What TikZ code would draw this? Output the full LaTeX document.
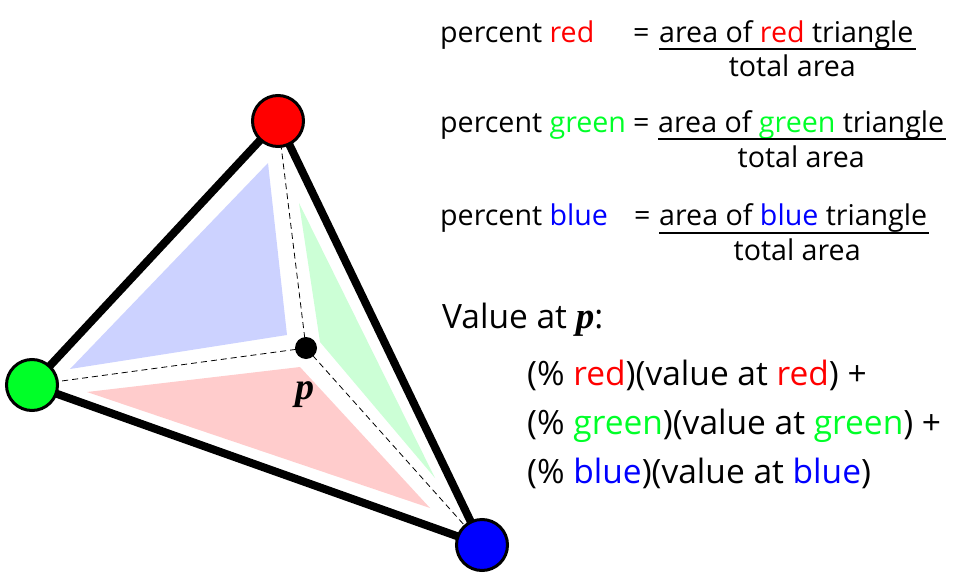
\documentclass[tikz,border=0pt]{standalone}
\usepackage{fontspec}
\setmainfont{Open Sans}
\newfontfamily\pfont{Liberation Serif}[BoldItalicFont={* Bold Italic}]
\definecolor{myred}{RGB}{255,0,0}
\definecolor{mygreen}{RGB}{0,255,40}
\definecolor{myblue}{RGB}{0,0,255}
\definecolor{lblue}{RGB}{204,210,255}
\definecolor{lgreen}{RGB}{204,255,214}
\definecolor{lred}{RGB}{255,204,204}
\newcommand{\pp}{{\pfont\bfseries\itshape p}}
\begin{document}
\begin{tikzpicture}[x=1pt,y=-1pt,
  vert/.style={circle,draw=black,line width=3pt,minimum size=51pt,inner sep=0pt},
  edge/.style={line width=8pt,line join=round},
  dsh/.style={line width=0.8pt,dash pattern=on 6pt off 4pt},
  txt/.style={anchor=base west,inner sep=0pt,font=\fontsize{28.6}{33}\selectfont},
  txtb/.style={anchor=base west,inner sep=0pt,font=\fontsize{33.5}{38}\selectfont},
  rulel/.style={line width=1.2pt}]
\useasboundingbox (0,0) rectangle (969,578);
% shaded sub-triangles
\fill[lblue] (268,163) -- (70,369) -- (287,335) -- cycle;
\fill[lgreen] (299,203) -- (320,342) -- (435,478) -- cycle;
\fill[lred] (87,392) -- (300,367) -- (430,508) -- cycle;
% nodes
\coordinate (Rc) at (278,121);
\coordinate (Gc) at (32,385);
\coordinate (Bc) at (482,545);
\node[circle,fill=black,minimum size=22pt,inner sep=0pt] (P) at (306,348) {};
\draw[dsh] (P.center) -- (Rc);
\draw[dsh] (P.center) -- (Gc);
\draw[dsh] (P.center) -- (Bc);
\draw[edge] (Rc) -- (Gc) -- (Bc) -- cycle;
\node[vert,fill=myred] (R) at (Rc) {};
\node[vert,fill=mygreen] (G) at (Gc) {};
\node[vert,fill=myblue] (B) at (Bc) {};
\node[anchor=base,inner sep=0pt,font=\fontsize{38}{40}\selectfont] (pl) at (305,399) {\pp};
% formulas
\node[txt] (l1) at (440,43) {percent \textcolor{myred}{red}};
\node[txt] (e1) at (633,43) {=};
\node[txt] (n1) at (659,43) {area of \textcolor{myred}{red} triangle};
\draw[rulel] ([yshift=-6pt]n1.base west) -- ([yshift=-6pt,xshift=2pt]n1.base east);
\node[txt,anchor=base] (d1) at ([yshift=-34pt,xshift=6pt]n1.base) {total area};
\node[txt] (l2) at (440,132) {percent \textcolor{mygreen}{green}};
\node[txt] (e2) at (633,132) {=};
\node[txt] (n2) at (658,132) {area of \textcolor{mygreen}{green} triangle};
\draw[rulel] ([yshift=-7pt]n2.base west) -- ([yshift=-7pt,xshift=2pt]n2.base east);
\node[txt,anchor=base] (d2) at ([yshift=-35pt]n2.base) {total area};
\node[txt] (l3) at (440,225) {percent \textcolor{myblue}{blue}};
\node[txt] (e3) at (634,225) {=};
\node[txt] (n3) at (659,225) {area of \textcolor{myblue}{blue} triangle};
\draw[rulel] ([yshift=-8pt]n3.base west) -- ([yshift=-8pt,xshift=2pt]n3.base east);
\node[txt,anchor=base] (d3) at ([yshift=-35pt,xshift=4pt]n3.base) {total area};
% value at p
\node[txtb] (v) at (442,328) {Value at {\fontsize{37}{40}\selectfont\pp}:};
\node[txtb] (s1) at (527,385) {(\% \textcolor{myred}{red})(value at \textcolor{myred}{red}) +};
\node[txtb] (s2) at (527,434) {(\% \textcolor{mygreen}{green})(value at \textcolor{mygreen}{green}) +};
\node[txtb] (s3) at (527,483) {(\% \textcolor{myblue}{blue})(value at \textcolor{myblue}{blue})};
\end{tikzpicture}
\end{document}
